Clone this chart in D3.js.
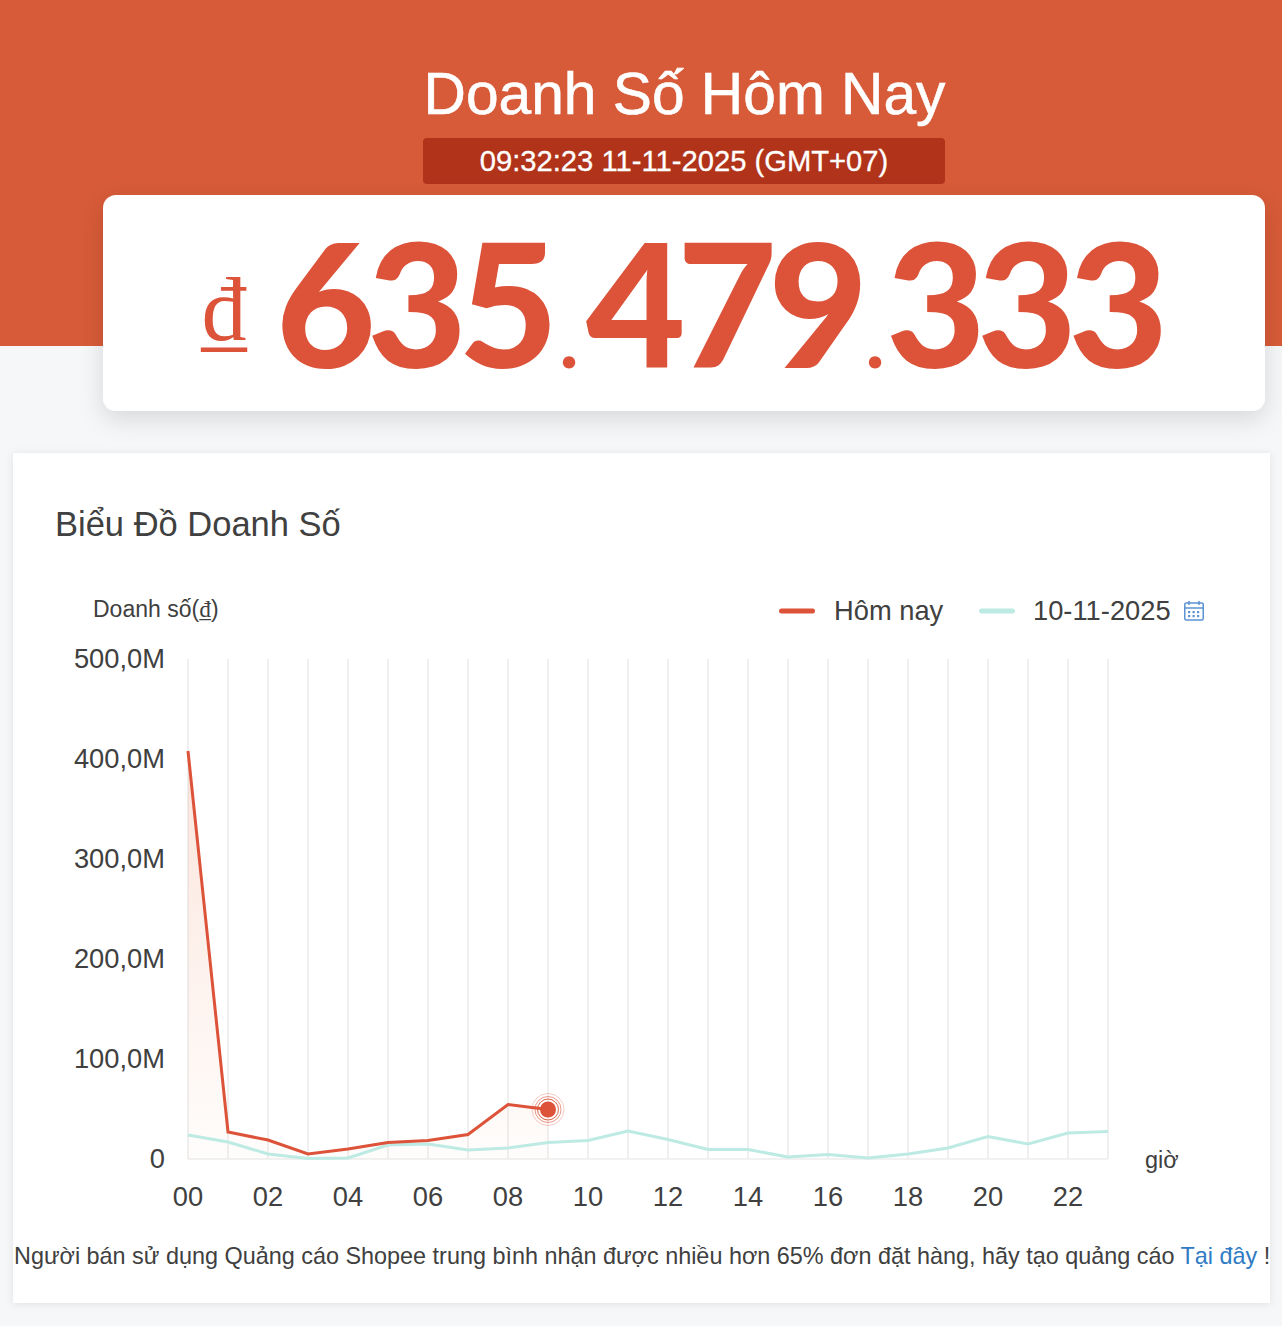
<!DOCTYPE html>
<html>
<head>
<meta charset="utf-8">
<script src="https://cdn.jsdelivr.net/npm/d3@7"></script>
<style>
  html, body { margin: 0; padding: 0; background: #f6f7f9; overflow: hidden; }
  svg { display: block; font-family: "Liberation Sans", sans-serif; }
</style>
</head>
<body>
<div id="chart"></div>
<script>
const hours = d3.range(0, 24);
const hourLabels = ['00', '02', '04', '06', '08', '10', '12', '14', '16', '18', '20', '22'];
const yTicks = [0, 100, 200, 300, 400, 500];
const yTickLabels = ['0', '100,0M', '200,0M', '300,0M', '400,0M', '500,0M'];
const today = [408, 27, 19, 5, 10, 16.5, 18.5, 24.5, 54.5, 49.5];
const yesterday = [24, 17, 5, 0.5, 1, 14, 15, 9, 11, 16.5, 18.5, 28, 19.5, 9.5, 9.5, 2, 4.5, 1, 5, 11, 22.5, 15, 26, 27.5];
const legendNames = ['Hôm nay', '10-11-2025'];
const totalParts = ['635', '.', '479', '.', '333'];

const width = 1282;
const height = 1326;
const red = '#dc5339';
const teal = '#bdeae3';
const ink = '#404040';

const svg = d3.select('#chart').append('svg')
  .attr('width', width)
  .attr('height', height)
  .attr('viewBox', [0, 0, width, height]);

const defs = svg.append('defs');
const shadow = defs.append('filter').attr('id', 'shadow')
  .attr('x', '-5%').attr('y', '-20%').attr('width', '110%').attr('height', '140%');
shadow.append('feDropShadow').attr('dx', 0).attr('dy', 8).attr('stdDeviation', 12)
  .attr('flood-color', '#000').attr('flood-opacity', 0.13);
const soft = defs.append('filter').attr('id', 'soft')
  .attr('x', '-3%').attr('y', '-3%').attr('width', '106%').attr('height', '106%');
soft.append('feDropShadow').attr('dx', 0).attr('dy', 1).attr('stdDeviation', 4)
  .attr('flood-color', '#000').attr('flood-opacity', 0.09);
const areaFill = defs.append('linearGradient').attr('id', 'areaFill')
  .attr('x1', 0).attr('x2', 0).attr('y1', 0).attr('y2', 1);
areaFill.append('stop').attr('offset', '0%').attr('stop-color', '#ee8a5e').attr('stop-opacity', 0.22);
areaFill.append('stop').attr('offset', '100%').attr('stop-color', '#ee8a5e').attr('stop-opacity', 0.02);

// header
svg.append('rect').attr('width', width).attr('height', 346).attr('fill', '#d75b38');
svg.append('text')
  .attr('x', 684.5).attr('y', 114)
  .attr('text-anchor', 'middle')
  .attr('font-size', 58.7)
  .attr('fill', '#fff')
  .attr('stroke', '#fff')
  .attr('stroke-width', 0.6)
  .text('Doanh Số Hôm Nay');
svg.append('rect')
  .attr('x', 423).attr('y', 138).attr('width', 522).attr('height', 46).attr('rx', 4)
  .attr('fill', '#b0331a');
svg.append('text')
  .attr('x', 684).attr('y', 171)
  .attr('text-anchor', 'middle')
  .attr('font-size', 29.2)
  .attr('fill', '#fff')
  .attr('stroke', '#fff')
  .attr('stroke-width', 0.3)
  .text('09:32:23 11-11-2025 (GMT+07)');

// total card
svg.append('rect')
  .attr('x', 103).attr('y', 195).attr('width', 1162).attr('height', 216).attr('rx', 13)
  .attr('fill', '#fff')
  .attr('filter', 'url(#shadow)');
svg.append('text')
  .attr('x', 201).attr('y', 340)
  .attr('font-family', '"Liberation Serif", serif')
  .attr('font-size', 90)
  .attr('fill', red)
  .text('₫');
svg.append('text')
  .attr('y', 368)
  .attr('font-family', 'Lato, sans-serif')
  .attr('font-weight', 900)
  .attr('font-size', 172)
  .attr('fill', red)
  .selectAll('tspan')
  .data(totalParts)
  .join('tspan')
  .attr('x', (d, i) => [276, 560, 586, 866, 886][i])
  .attr('font-size', (d) => (d === '.' ? 76 : null))
  .attr('letter-spacing', (d) => (d === '.' ? null : -8.5))
  .text((d) => d);

// chart card
svg.append('rect')
  .attr('x', 13).attr('y', 453).attr('width', 1257).attr('height', 850)
  .attr('fill', '#fff')
  .attr('filter', 'url(#soft)');
svg.append('text')
  .attr('x', 55).attr('y', 536)
  .attr('font-size', 34.5)
  .attr('fill', ink)
  .text('Biểu Đồ Doanh Số');

const x = d3.scaleLinear().domain([0, 23]).range([188, 1108]);
const y = d3.scaleLinear().domain([0, 500]).range([1159, 659]);

// grid
svg.append('g')
  .selectAll('line')
  .data(hours)
  .join('line')
  .attr('x1', (d) => x(d))
  .attr('x2', (d) => x(d))
  .attr('y1', y(500))
  .attr('y2', y(0))
  .attr('stroke', '#ececec')
  .attr('stroke-width', 1.6);
svg.append('line')
  .attr('x1', x(0)).attr('x2', x(23))
  .attr('y1', y(0)).attr('y2', y(0))
  .attr('stroke', '#ececec')
  .attr('stroke-width', 1.6);

// axes
const xAxis = d3.axisBottom(x)
  .tickValues(hourLabels.map(Number))
  .tickFormat((d) => String(d).padStart(2, '0'))
  .tickSize(0)
  .tickPadding(28);
const gx = svg.append('g').attr('transform', `translate(-0.5,${y(0)})`).call(xAxis);
gx.select('.domain').remove();
gx.selectAll('text')
  .attr('font-family', '"Liberation Sans", sans-serif')
  .attr('font-size', 27.3)
  .attr('fill', ink);

const yAxis = d3.axisLeft(y)
  .tickValues(yTicks)
  .tickFormat((d, i) => yTickLabels[i])
  .tickSize(0)
  .tickPadding(23);
const gy = svg.append('g').attr('transform', `translate(${x(0)},0)`).call(yAxis);
gy.select('.domain').remove();
gy.selectAll('text')
  .attr('font-family', '"Liberation Sans", sans-serif')
  .attr('font-size', 27.3)
  .attr('fill', ink);

const yTitle = svg.append('text')
  .attr('x', 93).attr('y', 617)
  .attr('font-size', 23)
  .attr('fill', ink);
yTitle.append('tspan').text('Doanh số(');
yTitle.append('tspan').attr('font-family', '"Liberation Serif", serif').text('₫');
yTitle.append('tspan').text(')');
svg.append('text')
  .attr('x', 1145).attr('y', 1168)
  .attr('font-size', 23.5)
  .attr('fill', ink)
  .text('giờ');

// series
const line = d3.line().x((d, i) => x(i)).y((d) => y(d));
const area = d3.area().x((d, i) => x(i)).y0(y(0)).y1((d) => y(d));

svg.append('path')
  .attr('d', area(today))
  .attr('fill', 'url(#areaFill)');
svg.append('path')
  .attr('d', line(yesterday))
  .attr('fill', 'none')
  .attr('stroke', teal)
  .attr('stroke-width', 3);
svg.append('path')
  .attr('d', line(today))
  .attr('fill', 'none')
  .attr('stroke', red)
  .attr('stroke-width', 3);

// pulse on the last point
const lastX = x(today.length - 1);
const lastY = y(today[today.length - 1]);
svg.append('g')
  .selectAll('circle')
  .data([16, 13, 10.5])
  .join('circle')
  .attr('cx', lastX)
  .attr('cy', lastY)
  .attr('r', (d) => d)
  .attr('fill', 'none')
  .attr('stroke', red)
  .attr('stroke-opacity', (d, i) => 0.3 + i * 0.3)
  .attr('stroke-width', 1);
svg.append('circle')
  .attr('cx', lastX)
  .attr('cy', lastY)
  .attr('r', 8)
  .attr('fill', red);

// legend
const legend = svg.append('g').selectAll('g')
  .data(legendNames)
  .join('g')
  .attr('transform', (d, i) => `translate(${[779, 979][i]},611)`);
legend.append('line')
  .attr('x1', 2.5).attr('x2', 33.5)
  .attr('stroke', (d, i) => [red, teal][i])
  .attr('stroke-width', 5)
  .attr('stroke-linecap', 'round');
legend.append('text')
  .attr('x', (d, i) => [55, 54][i])
  .attr('y', 9)
  .attr('font-size', 27.3)
  .attr('fill', ink)
  .text((d) => d);

// calendar icon
const cal = svg.append('g')
  .attr('transform', 'translate(1184,601)')
  .attr('fill', 'none')
  .attr('stroke', '#5b93d3')
  .attr('stroke-width', 1.5);
cal.append('rect').attr('x', 0.75).attr('y', 2).attr('width', 18.5).attr('height', 17).attr('rx', 1.5);
cal.append('line').attr('x1', 0.75).attr('x2', 19.25).attr('y1', 7).attr('y2', 7);
cal.append('line').attr('x1', 5).attr('x2', 5).attr('y1', 0).attr('y2', 4);
cal.append('line').attr('x1', 15).attr('x2', 15).attr('y1', 0).attr('y2', 4);
cal.selectAll('rect.dot')
  .data(d3.cross([4, 8.5, 13], [10, 14]))
  .join('rect')
  .attr('class', 'dot')
  .attr('x', (d) => d[0])
  .attr('y', (d) => d[1])
  .attr('width', 2.2)
  .attr('height', 2.2)
  .attr('fill', '#5b93d3')
  .attr('stroke', 'none');

// footer
const foot = svg.append('text')
  .attr('x', 14).attr('y', 1264)
  .attr('font-size', 23.4)
  .attr('fill', ink);
foot.append('tspan').text('Người bán sử dụng Quảng cáo Shopee trung bình nhận được nhiều hơn 65% đơn đặt hàng, hãy tạo quảng cáo ');
foot.append('tspan').attr('fill', '#2f7bc4').text('Tại đây');
foot.append('tspan').text(' !');
</script>
</body>
</html>
